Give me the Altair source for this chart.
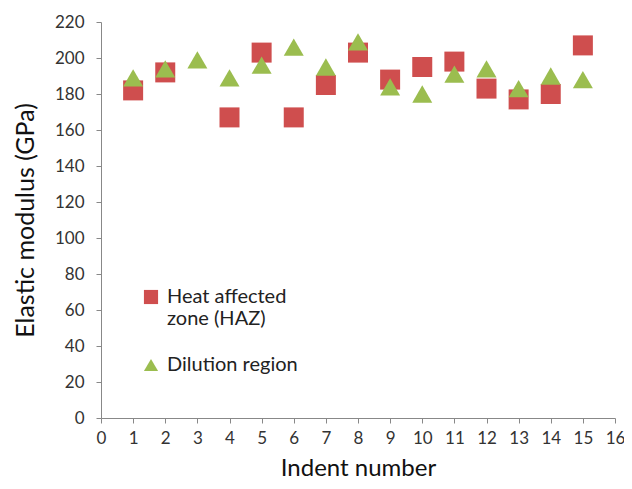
import altair as alt
import pandas as pd

indent = list(range(1, 16))
haz_indent = [1, 2, 4, 5, 6, 7, 8, 9, 10, 11, 12, 13, 14, 15]
haz_values = [182, 192, 167, 203, 167, 185, 203, 188, 195, 198, 183, 177, 180, 207]
dil_values = [189, 194, 199, 189, 196, 206, 195, 209, 184, 180, 191, 194, 183, 190, 188]

series_names = ["Heat affected zone (HAZ)", "Dilution region"]
x_ticks = list(range(0, 17))
y_ticks = list(range(0, 221, 20))

rows = []
for i, v in zip(haz_indent, haz_values):
    rows.append({"indent": i, "value": v, "series": series_names[0]})
for i, v in zip(indent, dil_values):
    rows.append({"indent": i, "value": v, "series": series_names[1]})
df = pd.DataFrame(rows)

FONT = "Lato"
label_expr = "datum.label == 'Heat affected zone (HAZ)' ? ['Heat affected', 'zone (HAZ)'] : datum.label"
legend = alt.Legend(title=None, orient="none", legendX=40, legendY=265,
                    labelFontSize=20, symbolSize=200, rowPadding=26, labelOffset=6,
                    labelExpr=label_expr)

chart = alt.Chart(df).mark_point(filled=True, opacity=1, size=400, strokeWidth=0).encode(
    x=alt.X("indent:Q", scale=alt.Scale(domain=[0, 16], nice=False),
            axis=alt.Axis(values=x_ticks, title="Indent number", grid=False,
                          labelFontSize=17, titleFontSize=24, titlePadding=10,
                          labelPadding=7, tickSize=5, labelFlush=False,
                          titleFontWeight="normal")),
    y=alt.Y("value:Q", scale=alt.Scale(domain=[0, 220], nice=False),
            axis=alt.Axis(values=y_ticks, title="Elastic modulus (GPa)", grid=False,
                          labelFontSize=17, titleFontSize=25, titlePadding=16,
                          labelPadding=12, tickSize=5, labelFlush=False,
                          titleFontWeight="normal")),
    shape=alt.Shape("series:N", sort=series_names,
                    scale=alt.Scale(domain=series_names, range=["square", "triangle-up"]),
                    legend=legend),
    color=alt.Color("series:N", sort=series_names,
                    scale=alt.Scale(domain=series_names, range=["#CF4E4E", "#9BBD4F"]),
                    legend=legend),
).properties(
    width=514, height=396,
    padding={"left": 93, "top": 14, "right": 9, "bottom": 63},
    autosize=alt.AutoSizeParams(type="none"),
).configure(font=FONT).configure_axis(
    domainColor="#888888", tickColor="#888888", labelColor="#333333", titleColor="#111111",
    labelFont=FONT, titleFont=FONT,
).configure_legend(labelFont=FONT, labelColor="#222222").configure_view(stroke=None)

chart.save("out.html", embed_options={"renderer": "svg", "actions": False})
